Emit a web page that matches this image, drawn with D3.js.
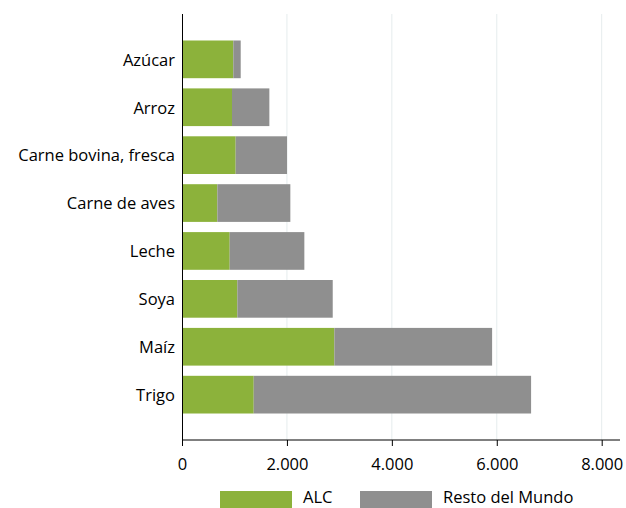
<!DOCTYPE html>
<html><head><meta charset="utf-8">
<script src="https://cdn.jsdelivr.net/npm/d3@7"></script>
<style>body{margin:0;background:#fff}svg{display:block}text{font-family:"Open Sans",sans-serif}</style>
</head><body>
<svg id="c" width="626" height="508"></svg>
<script>
const categories = ["Azúcar","Arroz","Carne bovina, fresca","Carne de aves","Leche","Soya","Maíz","Trigo"];
const alc = [978, 953, 1023, 674, 909, 1055, 2904, 1367];
const totals = [1119, 1665, 2002, 2065, 2332, 2873, 5911, 6654];
const resto = totals.map((t,i)=>t-alc[i]);
const seriesNames = ["ALC","Resto del Mundo"];
const colors = ["#8cb23b","#8f8f8f"];
const xTicks = [0,2000,4000,6000,8000];

const FS = "16.5px";
const svg = d3.select("#c");
const x = d3.scaleLinear().domain([0,8000]).range([182,601.7]);
const y = d3.scaleBand().domain(categories).range([14,440]).paddingInner(0.213).paddingOuter(0.553);

// gridlines
svg.append("g").selectAll("line").data(xTicks.slice(1)).join("line")
  .attr("x1",d=>x(d)).attr("x2",d=>x(d)).attr("y1",14).attr("y2",440)
  .attr("stroke","#e6eced").attr("stroke-width",1);

const data = categories.map((c,i)=>({c, a:alc[i], r:resto[i]}));
const stack = d3.stack().keys(["a","r"])(data);
svg.append("g").selectAll("g").data(stack).join("g")
  .attr("fill",(d,i)=>colors[i])
  .selectAll("rect").data(d=>d).join("rect")
  .attr("x",d=>x(d[0])).attr("width",d=>x(d[1])-x(d[0]))
  .attr("y",d=>y(d.data.c)).attr("height",y.bandwidth());

// x axis
const xa = svg.append("g").attr("transform","translate(0,440)")
  .call(d3.axisBottom(x).tickValues(xTicks).tickSize(6).tickSizeOuter(0)
    .tickFormat(d=>d3.format(",")(d).replace(/,/g,".")));
xa.select(".domain").attr("d","M182,0H620").attr("stroke","#000");
xa.selectAll(".tick line").attr("stroke","#000");
xa.selectAll(".tick text").attr("font-size",FS).attr("fill","#000").attr("y",18).attr("dy","0.71em")
  .attr("font-family","'Open Sans', sans-serif");

// y axis line
svg.append("line").attr("x1",182.5).attr("x2",182.5).attr("y1",14).attr("y2",446).attr("stroke","#000");

// category labels
svg.append("g").selectAll("text").data(categories).join("text")
  .attr("x",175).attr("y",d=>y(d)+y.bandwidth()/2).attr("dy","0.38em")
  .attr("text-anchor","end").attr("font-size",FS).attr("fill","#000").text(d=>d);

// legend
const lg = svg.append("g");
const lx = [220,360];
seriesNames.forEach((n,i)=>{
  lg.append("rect").attr("x",lx[i]).attr("y",491).attr("width",72).attr("height",20).attr("fill",colors[i]);
  lg.append("text").attr("x",lx[i]+83).attr("y",503).attr("font-size",FS).attr("fill","#000").text(n);
});
</script>
</body></html>
